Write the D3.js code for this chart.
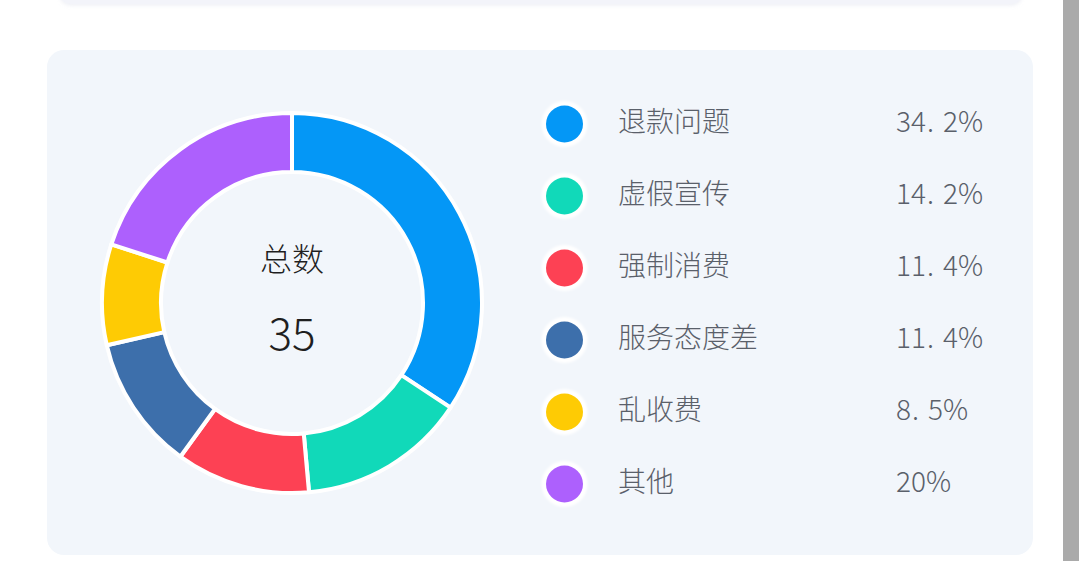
<!DOCTYPE html>
<html>
<head>
<meta charset="utf-8">
<script src="https://cdn.jsdelivr.net/npm/d3@7"></script>
<style>
  html, body { margin: 0; padding: 0; background: #fff; overflow: hidden; }
  svg { display: block; font-family: "Noto Sans CJK SC", "Noto Sans", sans-serif; }
</style>
</head>
<body>
<div id="chart"></div>
<script>
"use strict"
// complaint categories and counts (total 35)
var categories = ["退款问题", "虚假宣传", "强制消费", "服务态度差", "乱收费", "其他"];
var counts = [12, 5, 4, 4, 3, 7];
var colors = ["#0497f6", "#11d9b9", "#fd4154", "#3d6fab", "#fecb04", "#ad60fd"];
var centerTitle = "总数";

var width = 1079,
	height = 561;

var total = d3.sum(counts);

var svg = d3.select("#chart").append("svg")
	.attr("width", width)
	.attr("height", height);

var defs = svg.append("defs");
defs.append("filter").attr("id", "soft")
	.attr("x", "-50%").attr("y", "-50%").attr("width", "200%").attr("height", "200%")
	.append("feGaussianBlur").attr("stdDeviation", 0.8);
defs.append("filter").attr("id", "shadow")
	.attr("x", "-5%").attr("y", "-50%").attr("width", "110%").attr("height", "200%")
	.append("feDropShadow")
	.attr("dx", 0).attr("dy", 1).attr("stdDeviation", 2)
	.attr("flood-color", "#c8cde0").attr("flood-opacity", 0.35);

// top card (only its bottom edge is in view)
svg.append("rect")
	.attr("x", 60).attr("y", -40)
	.attr("width", 962).attr("height", 44)
	.attr("rx", 10)
	.style("fill", "#f3f4fa")
	.attr("filter", "url(#shadow)");

// main card
svg.append("rect")
	.attr("x", 47).attr("y", 50)
	.attr("width", 986).attr("height", 505)
	.attr("rx", 17)
	.style("fill", "#f2f6fb");

// scrollbar
svg.append("rect")
	.attr("x", 1063).attr("y", 0)
	.attr("width", 16).attr("height", height)
	.style("fill", "#aaaaaa");

// donut
var pie = d3.pie().sort(null).value(function(d) { return d; });
var arc = d3.arc().innerRadius(131).outerRadius(190);

var donut = svg.append("g").attr("transform", "translate(292,303)");
donut.selectAll("path")
	.data(pie(counts))
	.enter().append("path")
	.attr("d", arc)
	.style("fill", function(d, i) { return colors[i]; })
	.style("stroke", "#fff")
	.style("stroke-width", 4)
	.style("stroke-linejoin", "round");

donut.append("text")
	.attr("y", -46)
	.attr("text-anchor", "middle")
	.attr("dominant-baseline", "central")
	.style("font-size", "32px")
	.style("font-weight", 300)
	.style("fill", "#1f1f1f")
	.text(centerTitle);

donut.append("text")
	.attr("y", 28)
	.attr("text-anchor", "middle")
	.attr("dominant-baseline", "central")
	.style("font-size", "44px")
	.style("font-weight", 300)
	.style("fill", "#1f1f1f")
	.text(total);

// legend
var yscale = d3.scaleLinear().domain([0, categories.length - 1]).range([124, 484]);

function pct(v) {
	var p = Math.floor(v / total * 1000) / 10;
	return String(p);
}

var rows = svg.selectAll(".row")
	.data(categories)
	.enter().append("g")
	.attr("class", "row")
	.attr("transform", function(d, i) { return "translate(0," + yscale(i) + ")"; });

rows.append("circle")
	.attr("cx", 564.5).attr("r", 23)
	.style("fill", "#fff")
	.attr("filter", "url(#soft)");

rows.append("circle")
	.attr("cx", 564.5).attr("r", 18.5)
	.style("fill", function(d, i) { return colors[i]; });

rows.append("text")
	.attr("x", 618)
	.attr("y", -4)
	.attr("dominant-baseline", "central")
	.style("font-size", "28px")
	.style("font-weight", 300)
	.style("fill", "#5a606a")
	.text(function(d) { return d; });

var vals = rows.append("text")
	.attr("x", 896)
	.attr("y", -4)
	.attr("dominant-baseline", "central")
	.style("font-size", "28px")
	.style("font-weight", 300)
	.style("fill", "#5a606a");

vals.each(function(d, i) {
	var parts = pct(counts[i]).split(".");
	var t = d3.select(this);
	t.append("tspan").text(parts[0]);
	if (parts.length > 1) {
		t.append("tspan").attr("dx", 1).text(".");
		t.append("tspan").attr("dx", 9).text(parts[1]);
	}
	t.append("tspan").text("%");
});
</script>
</body>
</html>
